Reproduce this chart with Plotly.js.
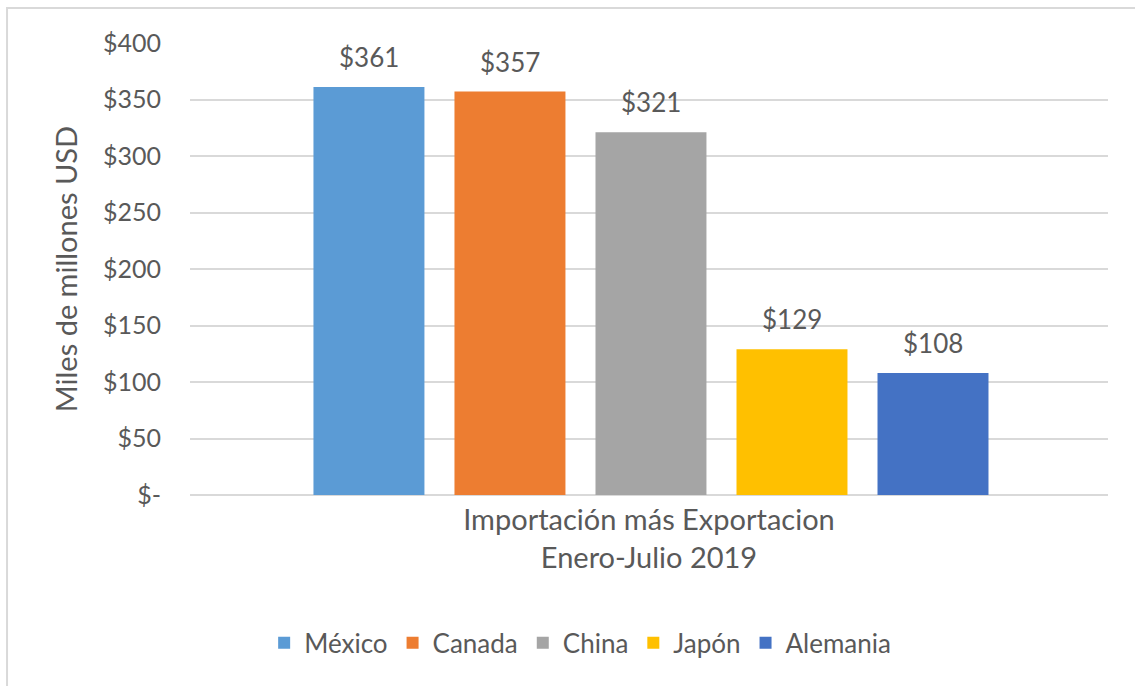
<!DOCTYPE html>
<html>
<head>
<meta charset="utf-8">
<script src="https://cdn.plot.ly/plotly-3.0.1.min.js"></script>
<style>html,body{margin:0;padding:0;background:#fff;}#chart{width:1135px;height:686px;}</style>
</head>
<body>
<div id="chart"></div>
<script>
const countries = ['México', 'Canada', 'China', 'Japón', 'Alemania'];
const values = [361, 357, 321, 129, 108];
const colors = ['#5B9BD5', '#ED7D31', '#A5A5A5', '#FFC000', '#4472C4'];
const tickVals = [0, 50, 100, 150, 200, 250, 300, 350, 400];
const tickText = ['$-', '$50', '$100', '$150', '$200', '$250', '$300', '$350', '$400'];
const categoryTitle = 'Importación más Exportacion<br>Enero-Julio 2019';
const yTitle = 'Miles de millones USD';

const FONT = 'Lato, "Open Sans", sans-serif';
const GRAY = '#595959';

const traces = countries.map((c, i) => ({
  type: 'bar',
  name: c,
  x: [c],
  y: [values[i]],
  marker: {color: colors[i], line: {width: 0}},
  hoverinfo: 'skip'
}));

const annotations = countries.map((c, i) => ({
  x: c, y: values[i], xref: 'x', yref: 'y',
  text: '$' + values[i],
  showarrow: false,
  yanchor: 'bottom',
  yshift: 12,
  font: {family: FONT, size: 26, color: GRAY}
}));

const layout = {
  width: 1135, height: 686,
  margin: {l: 190, r: 27, t: 43, b: 191},
  paper_bgcolor: '#fff', plot_bgcolor: '#fff',
  barmode: 'overlay',
  bargap: 0.213,
  showlegend: true,
  legend: {
    orientation: 'h', x: 0.425, xanchor: 'center', y: -0.327, yanchor: 'middle',
    font: {family: FONT, size: 26, color: GRAY},
    itemwidth: 30,
    traceorder: 'normal'
  },
  xaxis: {
    type: 'category',
    range: [-1.269, 5.241],
    showticklabels: false, ticks: '', showgrid: false, zeroline: false, showline: false,
    fixedrange: true,
    title: {text: categoryTitle, font: {family: FONT, size: 29, color: GRAY}, standoff: 14}
  },
  yaxis: {
    range: [0, 400],
    tickvals: tickVals, ticktext: tickText,
    tickfont: {family: FONT, size: 25, color: GRAY},
    ticklabelstandoff: 28,
    showgrid: true, gridcolor: '#d9d9d9', gridwidth: 2,
    zeroline: true, zerolinecolor: '#d9d9d9', zerolinewidth: 2,
    showline: false, ticks: '',
    fixedrange: true,
    title: {text: yTitle, font: {family: FONT, size: 29, color: GRAY}, standoff: 16}
  },
  annotations: annotations,
  shapes: [{
    type: 'rect', xref: 'paper', yref: 'paper',
    x0: -0.1993, x1: 1.2, y0: -0.6, y1: 1.0774,
    line: {color: '#d9d9d9', width: 2}, layer: 'below'
  }]
};

Plotly.newPlot('chart', traces, layout, {displayModeBar: false, staticPlot: true});
</script>
</body>
</html>
